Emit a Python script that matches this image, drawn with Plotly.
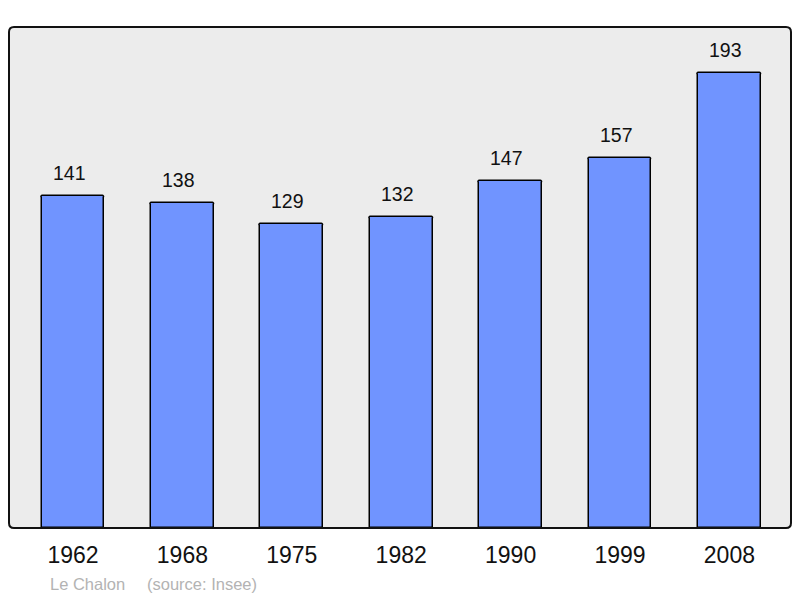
import plotly.graph_objects as go

years = ["1962", "1968", "1975", "1982", "1990", "1999", "2008"]
population = [141, 138, 129, 132, 147, 157, 193]
footer_place = "Le Chalon"
footer_source = "(source: Insee)"

OFF = 8  # page body margin
W, H = 800 - OFF, 598 - OFF
# plot area in page pixels
PX0, PX1, PY0, PY1 = 9, 791, 27, 528
L, T = PX0 - OFF, PY0 - OFF
R, B = (W + OFF) - PX1, (H + OFF) - PY1
pw, ph = PX1 - PX0, PY1 - PY0

def paper_x(px):
    return (px - PX0) / pw

def paper_y(py):
    return (PY1 - py) / ph

xs = list(range(len(years)))

fig = go.Figure()
fig.add_trace(go.Bar(
    x=xs, y=population, width=0.575,
    marker=dict(color="#7094ff", line=dict(color="#000000", width=1.5), cornerradius=2),
    hoverinfo="skip",
))

for i, v in enumerate(population):
    fig.add_annotation(x=i, y=v, text=str(v), showarrow=False, yanchor="bottom",
                       xanchor="center", xshift=-4, yshift=10,
                       font=dict(family="Liberation Sans", size=19.5, color="#111111"))

# rounded frame
rx, ry = 5 / pw, 5 / ph
def rpath(x0, y0, x1, y1):
    return (f"M {x0+rx},{y0} L {x1-rx},{y0} Q {x1},{y0} {x1},{y0+ry} "
            f"L {x1},{y1-ry} Q {x1},{y1} {x1-rx},{y1} L {x0+rx},{y1} "
            f"Q {x0},{y1} {x0},{y1-ry} L {x0},{y0+ry} Q {x0},{y0} {x0+rx},{y0} Z")
p = rpath(0, 0, 1, 1)
fig.add_shape(type="path", path=p, xref="paper", yref="paper", layer="below",
              fillcolor="#ececec", line=dict(width=0))
fig.add_shape(type="path", path=p, xref="paper", yref="paper", layer="above",
              fillcolor="rgba(0,0,0,0)", line=dict(color="#111111", width=2))

fig.add_annotation(x=paper_x(48), y=paper_y(584), xref="paper", yref="paper",
                   text=footer_place, showarrow=False, xanchor="left", yanchor="middle",
                   font=dict(family="Liberation Sans", size=16.5, color="#b3b3b3"))
fig.add_annotation(x=paper_x(145), y=paper_y(584), xref="paper", yref="paper",
                   text=footer_source, showarrow=False, xanchor="left", yanchor="middle",
                   font=dict(family="Liberation Sans", size=16.5, color="#b3b3b3"))

fig.update_layout(
    width=W, height=H,
    margin=dict(l=L, r=R, t=T, b=B, pad=0),
    paper_bgcolor="white", plot_bgcolor="rgba(0,0,0,0)",
    showlegend=False,
    bargap=0,
    xaxis=dict(range=[-0.585, 6.563], tickvals=xs, ticktext=years, showgrid=False,
               zeroline=False, showline=False, ticks="", ticklabelstandoff=11,
               tickfont=dict(family="Liberation Sans", size=23, color="#111111"),
               fixedrange=True),
    yaxis=dict(range=[0, 212.5], showgrid=False, zeroline=False, showline=False,
               showticklabels=False, ticks="", fixedrange=True),
)

fig.write_html("out.html")
